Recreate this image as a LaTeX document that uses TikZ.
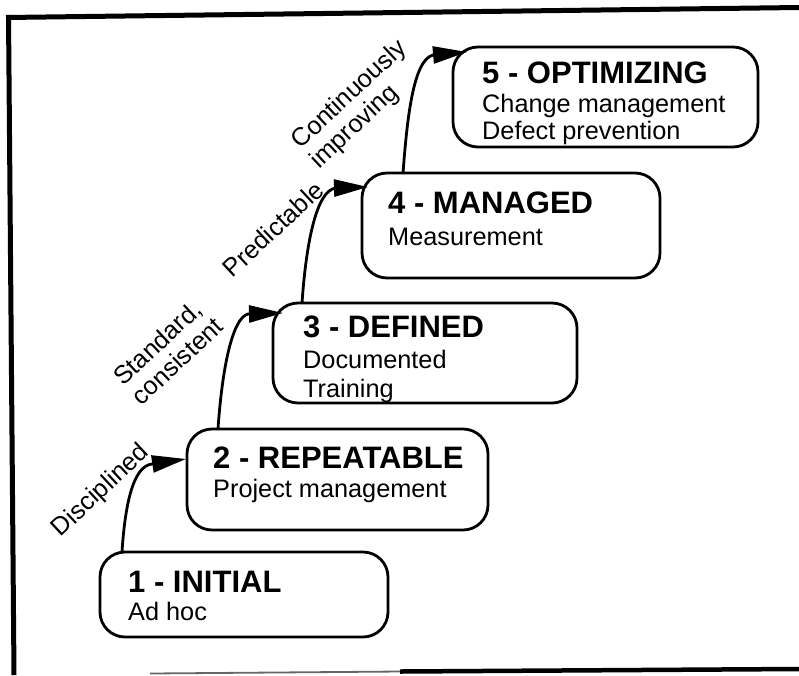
\documentclass[tikz,border=0pt]{standalone}
\usepackage{fontspec}
\setmainfont{Liberation Sans}
\usetikzlibrary{arrows.meta,calc}
\newcommand\stagetitle{\fontsize{31}{31}\selectfont\bfseries}
\newcommand\stagebody{\fontsize{25.3}{28}\selectfont}
\begin{document}
\begin{tikzpicture}[x=1pt,y=-1pt,
  stagebox/.style={draw,line width=2.8pt,rounded corners=25pt,anchor=north west,inner sep=0pt,outer sep=0pt},
  ttl/.style={anchor=base west,inner sep=0pt,font=\stagetitle},
  sub/.style={anchor=base west,inner sep=0pt,font=\stagebody},
  lbl/.style={rotate=43,inner sep=0pt,align=left,font=\fontsize{25.3}{27}\selectfont},
  conn/.style={line width=2.8pt,-{Triangle[length=34pt,width=17pt]}},
  frame/.style={line width=5pt}]
\useasboundingbox (0,0) rectangle (799,675);
% frame (scanned border)
\coordinate (ftl) at (6,17.5);
\coordinate (ftr) at (799,7.5);
\coordinate (fbl) at (14,675);
\draw[frame] (ftl) -- (ftr);
\draw[frame] (8.5,15) -- (fbl);
\coordinate (bb1) at (150,673.5);
\coordinate (bb2) at (400,671.5);
\coordinate (bb3) at (799,669);
\draw[line width=1.8pt,black!60] (bb1) -- (bb2);
\draw[line width=4.5pt] (bb2) -- (bb3);
% boxes
\node[stagebox,minimum width=288pt,minimum height=85pt] (b1) at (100,552) {};
\node[stagebox,minimum width=301pt,minimum height=101pt] (b2) at (187,429) {};
\node[stagebox,minimum width=304pt,minimum height=100pt] (b3) at (273,303) {};
\node[stagebox,minimum width=298pt,minimum height=105pt] (b4) at (362,173) {};
\node[stagebox,minimum width=305pt,minimum height=100pt] (b5) at (453,47) {};
% texts
\node[ttl] (t1) at ($(b1.north west)+(28,40)$) {1 - INITIAL};
\node[sub] (s1a) at ($(b1.north west)+(28,68)$) {Ad hoc};
\node[ttl] (t2) at ($(b2.north west)+(26,39)$) {2 - REPEATABLE};
\node[sub] (s2a) at ($(b2.north west)+(26,68)$) {Project management};
\node[ttl] (t3) at ($(b3.north west)+(30,34)$) {3 - DEFINED};
\node[sub] (s3a) at ($(b3.north west)+(30,65)$) {Documented};
\node[sub] (s3b) at ($(b3.north west)+(30,94)$) {Training};
\node[ttl] (t4) at ($(b4.north west)+(26,40)$) {4 - MANAGED};
\node[sub] (s4a) at ($(b4.north west)+(26,72)$) {Measurement};
\node[ttl] (t5) at ($(b5.north west)+(29,36)$) {5 - OPTIMIZING};
\node[sub] (s5a) at ($(b5.north west)+(29,65)$) {Change management};
\node[sub] (s5b) at ($(b5.north west)+(29,92)$) {Defect prevention};
% connectors
\draw[conn] ($(b1.north west)+(22,0)$) .. controls ($(b1.north west)+(25,-47)$) and ($(b2.north west)+(-54,37)$) .. ($(b2.north west)+(-35,35)$) -- ($(b2.north west)+(-1,30)$);
\draw[conn] ($(b2.north west)+(31,0)$) .. controls ($(b2.north west)+(35,-59)$) and ($(b3.north west)+(-41,15)$) .. ($(b3.north west)+(-25,11)$) -- ($(b3.north west)+(10,10)$);
\draw[conn] ($(b3.north west)+(29,0)$) .. controls ($(b3.north west)+(33,-58)$) and ($(b4.north west)+(-46,17)$) .. ($(b4.north west)+(-26,15)$) -- ($(b4.north west)+(6,14)$);
\draw[conn] ($(b4.north west)+(41,0)$) .. controls ($(b4.north west)+(45,-53)$) and ($(b5.north west)+(-40,13)$) .. ($(b5.north west)+(-20,8)$) -- ($(b5.north west)+(14,5)$);
% labels
\node[lbl] (l1) at (101,491) {Disciplined};
\node[lbl] (l2) at (168,351) {Standard,\\consistent};
\node[lbl] (l3) at (273,229) {Predictable};
\node[lbl] (l4) at (359,105) {Continuously\\improving};
\end{tikzpicture}
\end{document}
